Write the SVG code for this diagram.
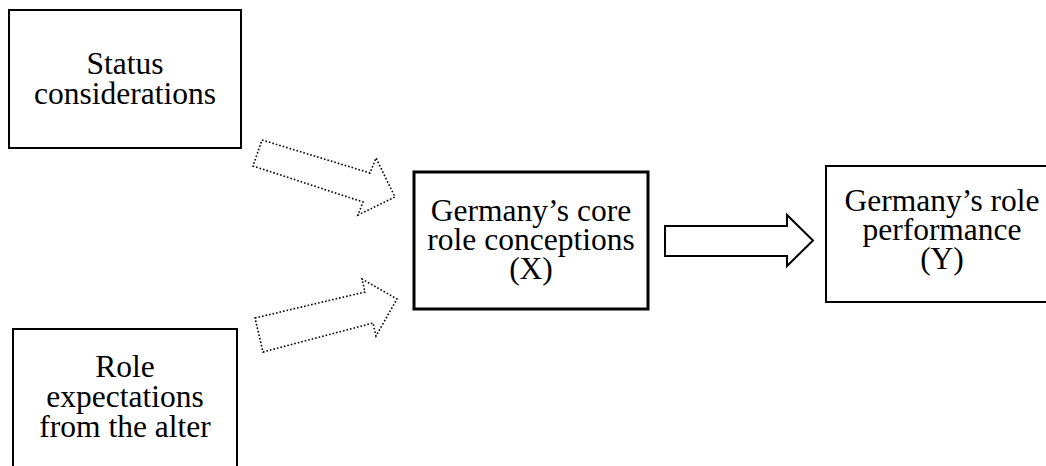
<svg xmlns="http://www.w3.org/2000/svg" width="1046" height="466" viewBox="0 0 1046 466">
<style>
.box{fill:#fff;stroke:#000;stroke-width:2}
.thick{stroke-width:3}
.t{font-family:"Liberation Serif","Times New Roman",serif;font-size:31.5px;fill:#000;text-anchor:middle}
.dot{fill:#fff;stroke:#000;stroke-width:1.6;stroke-dasharray:1.6 2;stroke-linejoin:miter}
.solid{fill:#fff;stroke:#000;stroke-width:2;stroke-linejoin:miter}
</style>
<rect width="1046" height="466" fill="#fff"/>
<g id="status">
<rect class="box" x="9" y="10" width="232" height="138"/>
<text class="t" x="125" y="74">Status</text>
<text class="t" x="125" y="104">considerations</text>
</g>
<g id="role-expectations">
<rect class="box" x="13" y="329" width="224" height="150"/>
<text class="t" x="125" y="377">Role</text>
<text class="t" x="125" y="407">expectations</text>
<text class="t" x="125" y="437">from the alter</text>
</g>
<g id="core">
<rect class="box thick" x="414" y="172" width="234" height="137"/>
<text class="t" x="531" y="221">Germany’s core</text>
<text class="t" x="531" y="250">role conceptions</text>
<text class="t" x="531" y="279">(X)</text>
</g>
<g id="performance">
<rect class="box" x="826" y="166" width="230" height="136"/>
<text class="t" x="942" y="211">Germany’s role</text>
<text class="t" x="942" y="240">performance</text>
<text class="t" x="942" y="269">(Y)</text>
</g>
<g id="connectors">
<polygon class="dot" points="262,140 370,173 376,158 395,197 358,215 363,202 253,166"/>
<polygon class="dot" points="255,318 365,292 362,279 397,299 376,336 373,323 263,352"/>
<polygon class="solid" points="665,226 787,226 787,215 813,240.5 787,266 787,256 665,256"/>
</g>
</svg>
